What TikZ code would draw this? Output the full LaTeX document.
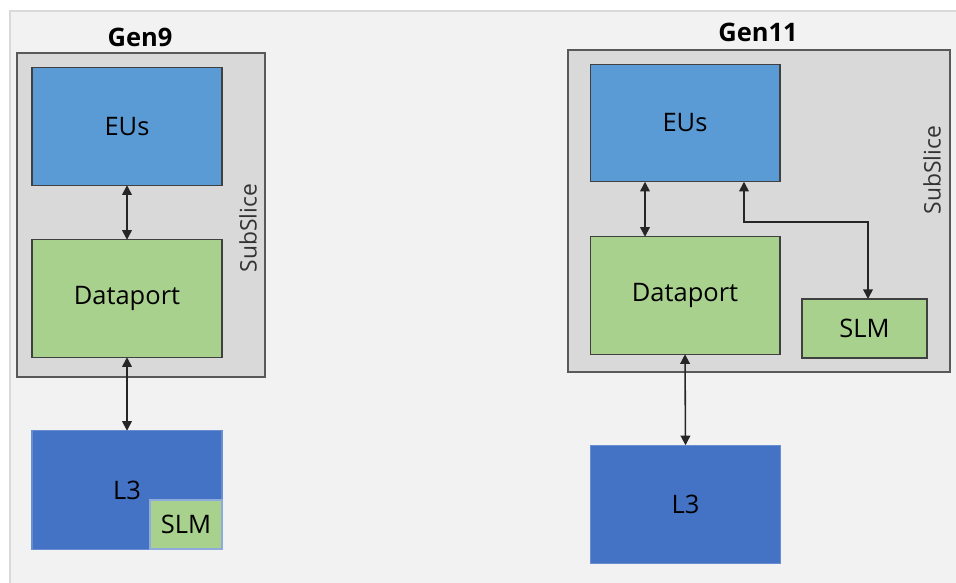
\documentclass[tikz,border=0pt]{standalone}
\usepackage{fontspec}
\setmainfont{Open Sans}
\usepackage{tikz}
\usetikzlibrary{arrows.meta,arrows}
\definecolor{bgcol}{HTML}{F2F2F2}
\definecolor{slicecol}{HTML}{D9D9D9}
\definecolor{eucol}{HTML}{5B9BD5}
\definecolor{dpcol}{HTML}{A9D18E}
\definecolor{lcol}{HTML}{4472C4}
\begin{document}
\begin{tikzpicture}[x=0.02cm,y=-0.02cm,
    box/.style={draw=black!75,line width=0.6pt,inner sep=0pt,outer sep=0pt,font=\fontsize{14.5}{16}\selectfont},
    slicebox/.style={box,fill=slicecol,draw=black!65,line width=0.8pt},
    eubox/.style={box,fill=eucol,minimum width=3.8cm,minimum height=2.35cm},
    dpbox/.style={box,fill=dpcol,minimum width=3.8cm,minimum height=2.35cm},
    lbox/.style={box,fill=lcol,draw=lcol!80!white,minimum width=3.8cm,minimum height=2.37cm},
    title/.style={font=\fontsize{14.5}{16}\selectfont\bfseries},
    slicetext/.style={rotate=90,font=\fontsize{13}{15}\selectfont,text=black!80},
    link/.style={{Triangle[length=5.5pt,width=5.5pt]}-{Triangle[length=5.5pt,width=5.5pt]},line width=0.9pt,black!85}]
        \useasboundingbox (0,0) rectangle (956,582);
        \draw[fill=bgcol,draw=black!15,line width=0.8pt] (10,11) rectangle (962,585);
        % Gen9
        \node[title] (t9) at (140,37) {Gen9};
        \node[slicebox,minimum width=4.96cm,minimum height=6.48cm] (s9) at (141,215) {};
        \node[slicetext] (st9) at (248,228) {SubSlice};
        \node[eubox] (eu9) at (127,126.5) {EUs};
        \node[dpbox] (dp9) at (127,298.5) {Dataport};
        \node[lbox] (l9) at (127,490) {L3};
        \node[box,fill=dpcol,draw=lcol!60!white,minimum width=1.44cm,minimum height=0.98cm] (slm9) at (186,524.5) {SLM};
        %
        % Gen11
        \node[title] (t11) at (758,32) {Gen11};
        \node[slicebox,minimum width=7.64cm,minimum height=6.44cm] (s11) at (759,211) {};
        \node[slicetext] (st11) at (932,170) {SubSlice};
        \node[eubox] (eu11) at (685,123) {EUs};
        \node[dpbox] (dp11) at (685,295.5) {Dataport};
        \node[box,fill=dpcol,minimum width=2.5cm,minimum height=1.18cm] (slm11) at (864.5,328.5) {SLM};
        \node[lbox] (l11) at (685.5,504.5) {L3};
        \coordinate (bend11) at (800,222);
        %
        % Links:
      \draw[link] (eu9.south) -- (dp9.north);
      \draw[link] (dp9.south) -- (l9.north);
      \draw[link] ([xshift=-0.8cm]eu11.south) -- ([xshift=-0.8cm]dp11.north);
      \draw[link] ([xshift=1.18cm]eu11.south) |- (bend11) -| ([xshift=0.07cm]slm11.north);
      \draw[link] (dp11.south) -- (l11.north);
\end{tikzpicture}
\end{document}
